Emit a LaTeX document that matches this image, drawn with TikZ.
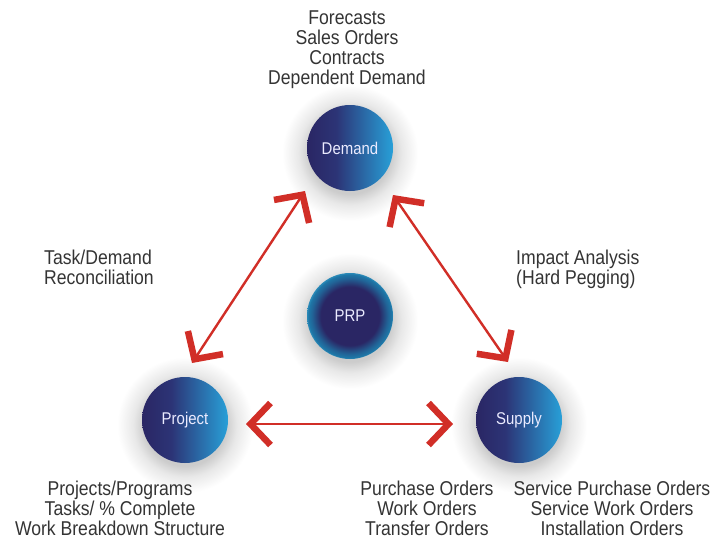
\documentclass[tikz,border=0pt]{standalone}
\usepackage{fontspec}
\newfontfamily\cf[FakeStretch=0.88]{Liberation Sans}
\usetikzlibrary{arrows.meta}
\definecolor{navy}{RGB}{42,38,100}
\definecolor{navyb}{RGB}{44,52,118}
\definecolor{lblue}{RGB}{40,160,216}
\definecolor{tealc}{RGB}{30,120,168}
\definecolor{tealr}{RGB}{44,140,186}
\definecolor{arrred}{RGB}{209,46,39}
\definecolor{txt}{RGB}{52,52,52}
\pgfdeclarehorizontalshading{bluegrad}{100bp}{color(0bp)=(navy); color(25bp)=(navy); color(42bp)=(navyb); color(75bp)=(lblue); color(100bp)=(lblue)}
\pgfdeclareradialshading{prpgrad}{\pgfpoint{0bp}{0bp}}{color(0bp)=(navy); color(17bp)=(navy); color(22bp)=(tealc!75!navy); color(24.3bp)=(tealc); color(25bp)=(tealr); color(50bp)=(tealr)}
\pgfdeclareradialshading{glowgrad}{\pgfpoint{0bp}{0bp}}{color(0bp)=(black!22); color(15bp)=(black!20); color(19bp)=(black!9); color(25bp)=(white); color(50bp)=(white)}
\tikzset{
  ball/.style={circle, minimum size=86pt, inner sep=0pt, text=white!92!blue,
    font=\cf\fontsize{17}{18}\selectfont},
  sideball/.style={ball, shading=bluegrad},
  centerball/.style={ball, shading=prpgrad},
  glow/.style={shading=glowgrad},
  lbl/.style={text=txt, font=\cf\fontsize{20}{19.8}\selectfont, inner sep=0pt},
  dbl/.style={draw=arrred, line width=2.4pt,
    {Straight Barb[length=20pt,width=42pt,line width=6.5pt]}-{Straight Barb[length=20pt,width=42pt,line width=6.5pt]}}
}
\begin{document}
\begin{tikzpicture}[x=1pt,y=-1pt]
\useasboundingbox[fill=white] (0,0) rectangle (727,544);
\foreach \p in {(350,153),(350,321),(185,425),(519,425)}
  \shade[glow] \p circle (68pt);
\node[sideball] (demand) at (350,148) {Demand};
\node[centerball] (prp) at (350,316) {PRP};
\node[sideball] (project) at (185,420) {Project};
\node[sideball] (supply) at (519,420) {Supply};
\coordinate (l1) at (305,191);
\coordinate (l2) at (192,363);
\coordinate (r1) at (393,195);
\coordinate (r2) at (508,362);
\coordinate (h1) at (246,424);
\coordinate (h2) at (453,424);
\draw[dbl] (l1) -- (l2);
\draw[dbl] (r1) -- (r2);
\draw[dbl] (h1) -- (h2);
\node[lbl, align=center, anchor=north] (tdem) at (347,11) {Forecasts\\Sales Orders\\Contracts\\Dependent Demand};
\node[lbl, align=left, anchor=north west] (trec) at (44,250) {Task/Demand\\Reconciliation};
\node[lbl, align=left, anchor=north west] (timp) at (516,250) {Impact Analysis\\(Hard Pegging)};
\node[lbl, align=center, anchor=north] (tproj) at (120,481) {Projects/Programs\\Tasks/ \% Complete\\Work Breakdown Structure};
\node[lbl, align=center, anchor=north] (tpur) at (427,481) {Purchase Orders\\Work Orders\\Transfer Orders};
\node[lbl, align=center, anchor=north] (tserv) at (612,481) {Service Purchase Orders\\Service Work Orders\\Installation Orders};
\end{tikzpicture}
\end{document}
